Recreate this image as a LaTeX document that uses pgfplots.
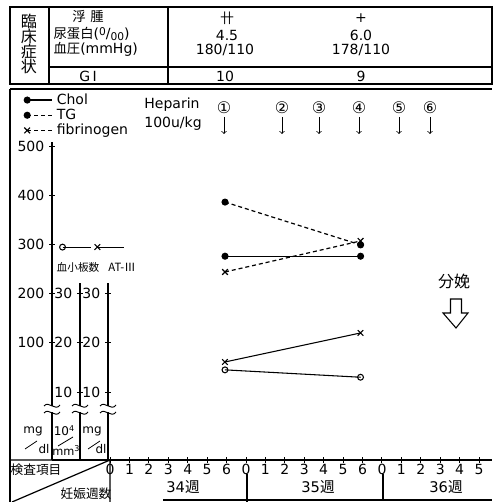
\documentclass[border=0pt]{standalone}
\usepackage{fontspec}
\setmainfont{DejaVu Sans}
\newfontfamily\jp{Noto Sans CJK JP}
\usepackage{pgfplots}
\pgfplotsset{compat=1.18}

\pgfplotsset{
  noarrows/.style={axis line style={-},
    every outer x axis line/.append style={-}, every outer y axis line/.append style={-},
    every inner x axis line/.append style={-}, every inner y axis line/.append style={-}},
  chart/.style={
    anchor=south west, clip=false, x=14.565pt, xmax=19.67,
    axis line style={line width=0.9pt},
    every tick/.style={black, line width=0.7pt},
    tick align=center, major tick length=4.5pt,
    /pgf/number format/assume math mode=true,
    tick label style={font=\fontsize{10.5}{12}\selectfont},
    legend style={draw=none, fill=none, inner sep=0pt, font=\fontsize{10.5}{12}\selectfont},
  },
  sideaxis/.style={chart, y=3.69pt, ymin=-3.82, ymax=32.15,
    axis y line=left, axis x line=none, xtick=\empty, ytick={10,20,30},
    legend style={anchor=west, nodes={inner sep=0pt}}, noarrows,
  },
  markfirst/.style={legend image code/.code={
    \draw[##1,mark repeat=3,mark phase=1] plot coordinates {(0pt,0pt) (#1/2,0pt) (#1,0pt)};}},
}

\begin{document}
\begin{tikzpicture}[font=\fontsize{10.5}{12}\selectfont]
\useasboundingbox (0,0) rectangle (370.5pt,376.5pt);

% main scale (mg/dl): Chol, TG, fibrinogen
\begin{axis}[chart, at={(39pt,31.5pt)}, xmin=-2.99, y=0.369pt, ymin=-138.2, ymax=508,
  axis x line=bottom, axis y line=left,
  xtick={0,...,19}, xticklabels={0,1,2,3,4,5,6,0,1,2,3,4,5,6,0,1,2,3,4,5},
  xticklabel style={inner sep=0pt, yshift=-1pt},
  ytick={100,200,300,400,500},
  markfirst=18.75pt, legend cell align=left,
  legend style={at={(-0.0636,1.157)}, anchor=north west, row sep=0pt,
    nodes={inner sep=1pt}, column sep=2pt},
  noarrows]
\addplot[line width=0.9pt, mark=*, mark size=2.2pt] coordinates {(5.92,276) (12.9,276)};
\addlegendentry{Chol}
\addplot[line width=0.9pt, dash pattern=on 3pt off 2.2pt, mark=*, mark size=2.2pt, mark options={solid}]
  coordinates {(5.92,386) (12.9,299)};
\addlegendentry{TG}
\addplot[line width=0.9pt, dash pattern=on 3pt off 2.2pt, mark=x, mark size=3pt, mark options={solid}]
  coordinates {(5.92,244) (12.9,307)};
\addlegendentry{fibrinogen}
\end{axis}

% platelets (10^4/mm^3)
\begin{axis}[sideaxis, at={(60pt,31.5pt)}, xmin=-1.545, markfirst=21pt,
  legend style={at={(-0.0502,1.203)}}]
\addplot[line width=0.8pt, mark=o, mark size=2.2pt] coordinates {(5.92,14.5) (12.9,13.0)};
\addlegendentry{}
\end{axis}

% AT-III (mg/dl)
\begin{axis}[sideaxis, at={(81pt,31.5pt)}, xmin=-0.103, markfirst=20pt,
  legend style={at={(-0.0357,1.203)}}]
\addplot[line width=0.8pt, mark=x, mark size=3pt] coordinates {(5.92,16.1) (12.9,22.0)};
\addlegendentry{}
\end{axis}

% everything else in image pixels, y downwards
\begin{scope}[x=0.75pt, y=-0.75pt, yshift=376.5pt, line width=0.9pt]
  % table
  \draw (10,7) rectangle (492,84);
  \draw (49,7) -- (49,84) (168,7) -- (168,84) (49,67) -- (492,67);
  \draw (10,89) -- (492,89) (10,89) -- (10,502);
  \node[inner sep=0pt] at (29,21) {\jp\fontsize{12}{12}\selectfont 臨};
  \node[inner sep=0pt] at (29,36) {\jp\fontsize{12}{12}\selectfont 床};
  \node[inner sep=0pt] at (29,51) {\jp\fontsize{12}{12}\selectfont 症};
  \node[inner sep=0pt] at (29,66) {\jp\fontsize{12}{12}\selectfont 状};
  \node[inner sep=0pt] at (88,16) {\jp\fontsize{10}{10}\selectfont 浮\hspace{3.5pt}腫};
  \node[inner sep=0pt, anchor=west] at (53,34) {{\jp\fontsize{10}{10}\selectfont 尿蛋白}(\raisebox{2.5pt}{\fontsize{8}{8}\selectfont 0}/\raisebox{-1.5pt}{\fontsize{8}{8}\selectfont 00})};
  \node[inner sep=0pt, anchor=west] at (53,49) {{\jp\fontsize{10}{10}\selectfont 血圧}(mmHg)};
  \node[inner sep=0pt] at (88,76) {G\,I};
  \node[inner sep=0pt] at (227,18) {\jp 卄};
  \node[inner sep=0pt] at (227,36) {4.5};
  \node[inner sep=0pt] at (225,50) {180/110};
  \node[inner sep=0pt] at (361,18) {+};
  \node[inner sep=0pt] at (361,35) {6.0};
  \node[inner sep=0pt] at (361,50) {178/110};
  \node[inner sep=0pt] at (225,76) {10};
  \node[inner sep=0pt] at (361,76) {9};

  % heparin
  \node[inner sep=0pt] at (172,105) {Heparin};
  \node[inner sep=0pt] at (173,124) {100u/kg};
  \foreach \a/\n in {224/①,282/②,319/③,359/④,399/⑤,430/⑥} {
    \node[inner sep=0pt] at (\a,108) {\fontsize{12}{12}\selectfont\n};
    \draw[->, line width=0.6pt] (\a,117) -- (\a,134);
  }

  % delivery
  \node[inner sep=0pt] at (454,281) {\jp\fontsize{12}{12}\selectfont 分娩};
  \draw[line width=0.8pt, line join=miter] (450.5,299) -- (461.5,299) -- (461.5,313) -- (468,313)
    -- (456,328) -- (443,313) -- (450.5,313) -- cycle;

  % legend labels of the side scales
  \node[inner sep=0pt] at (78,267) {\jp\fontsize{8}{8}\selectfont 血小板数};
  \node[inner sep=0pt] at (122,267) {\jp\fontsize{8.5}{8.5}\selectfont AT-Ⅲ};

  % axis breaks
  \foreach \a in {52,80,108} {
    \fill[white] (\a-4,406) rectangle (\a+4,412);
    \draw[line width=0.7pt] (\a-8,406) .. controls (\a-3,400) and (\a+3,412) .. (\a+8,405);
    \draw[line width=0.7pt] (\a-8,413) .. controls (\a-3,407) and (\a+3,419) .. (\a+8,412);
  }

  % units
  \begin{scope}[font=\fontsize{9}{9}\selectfont]
    \node[inner sep=0pt] at (33,431) {mg};
    \node[inner sep=0pt] at (44,449) {dl};
    \draw[line width=0.6pt] (25,449) -- (37,441);
    \node[inner sep=0pt] at (64,431) {10\raisebox{3pt}{\fontsize{6}{6}\selectfont 4}};
    \node[inner sep=0pt] at (66,451) {\fontsize{8.5}{8.5}\selectfont mm\raisebox{3pt}{\fontsize{6}{6}\selectfont 3}};
    \draw[line width=0.6pt] (58,446) -- (73,437);
    \node[inner sep=0pt] at (92,431) {mg};
    \node[inner sep=0pt] at (101,449) {dl};
    \draw[line width=0.6pt] (88,449) -- (100,441);
  \end{scope}

  % bottom-left corner and weeks
  \draw (10,460) -- (52,460) (110,460) -- (110,502) (12,502) -- (110,460);
  \node[inner sep=0pt] at (36,470) {\jp\fontsize{9.5}{9.5}\selectfont 検査項目};
  \node[inner sep=0pt] at (86,494) {\jp\fontsize{9.5}{9.5}\selectfont 妊娠週数};
  \draw (247,474) -- (247,502) (383,474) -- (383,500) (163,500) -- (492,500);
  \node[inner sep=0pt] at (183,487) {\fontsize{11}{11}\selectfont 34{\jp 週}};
  \node[inner sep=0pt] at (318,487) {\fontsize{11}{11}\selectfont 35{\jp 週}};
  \node[inner sep=0pt] at (446,487) {\fontsize{11}{11}\selectfont 36{\jp 週}};
\end{scope}
\end{tikzpicture}
\end{document}
